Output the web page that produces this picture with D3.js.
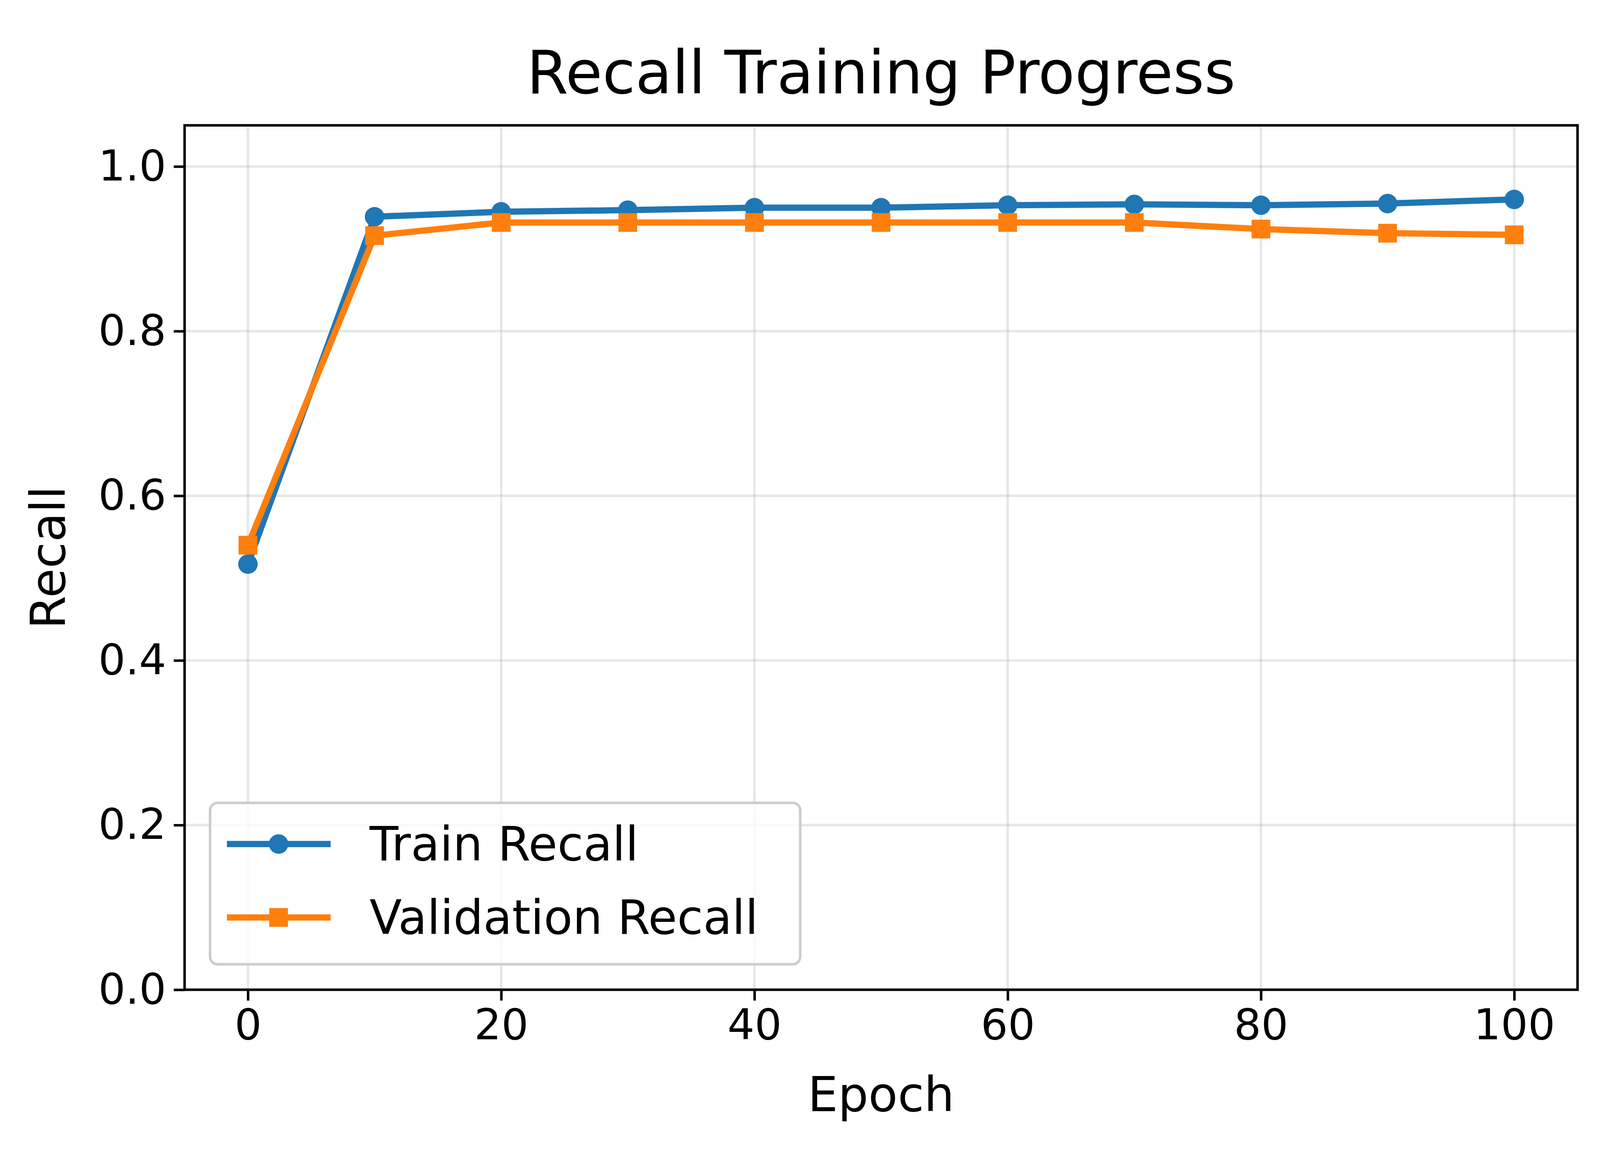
<!DOCTYPE html>
<html>
<head>
<meta charset="utf-8">
<script src="https://cdn.jsdelivr.net/npm/d3@7"></script>
<style>
  html, body { margin: 0; padding: 0; background: white; overflow: hidden; }
  svg { display: block; }
  text { font-family: "DejaVu Sans", sans-serif; }
</style>
</head>
<body>
<script>
// Data
const epochs = [0, 10, 20, 30, 40, 50, 60, 70, 80, 90, 100];
const trainRecall = [0.517, 0.939, 0.945, 0.947, 0.950, 0.950, 0.953, 0.954, 0.953, 0.955, 0.960];
const valRecall = [0.540, 0.916, 0.932, 0.932, 0.932, 0.932, 0.932, 0.932, 0.924, 0.919, 0.917];
const xTicks = [0, 20, 40, 60, 80, 100];
const yTicks = [0.0, 0.2, 0.4, 0.6, 0.8, 1.0];

const width = 4273, height = 2992;
const margin = { top: 270, right: 60, bottom: 414, left: 493 };
const plotW = width - margin.left - margin.right;
const plotH = height - margin.top - margin.bottom;

const svg = d3.select('body').append('svg')
    .attr('width', '100vw')
    .attr('height', '100vh')
    .attr('viewBox', `0 0 ${width} ${height}`)
    .attr('preserveAspectRatio', 'xMidYMid meet');

const g = svg.append('g')
    .attr('transform', `translate(${margin.left}, ${margin.top})`);

const x = d3.scaleLinear().domain([-5, 105]).range([0, plotW]);
const y = d3.scaleLinear().domain([0, 1.05]).range([plotH, 0]);

// grid
g.append('g').selectAll('line')
    .data(xTicks).join('line')
    .attr('x1', d => x(d)).attr('x2', d => x(d))
    .attr('y1', 0).attr('y2', plotH)
    .attr('stroke', '#b0b0b0').attr('stroke-opacity', 0.3).attr('stroke-width', 6.7);
g.append('g').selectAll('line')
    .data(yTicks).join('line')
    .attr('x1', 0).attr('x2', plotW)
    .attr('y1', d => y(d)).attr('y2', d => y(d))
    .attr('stroke', '#b0b0b0').attr('stroke-opacity', 0.3).attr('stroke-width', 6.7);

// axes
const xAxis = d3.axisBottom(x).tickValues(xTicks).tickSize(29).tickPadding(22).tickFormat(d3.format('d'));
const yAxis = d3.axisLeft(y).tickValues(yTicks).tickSize(29).tickPadding(20).tickFormat(d3.format('.1f'));
g.append('g').attr('transform', `translate(0, ${plotH})`).call(xAxis)
    .call(a => a.select('.domain').remove())
    .call(a => a.selectAll('.tick line').attr('stroke-width', 6.7))
    .call(a => a.selectAll('text').attr('font-size', 114).attr('fill', 'black'));
g.append('g').call(yAxis)
    .call(a => a.select('.domain').remove())
    .call(a => a.selectAll('.tick line').attr('stroke-width', 6.7))
    .call(a => a.selectAll('text').attr('font-size', 114).attr('fill', 'black'));

g.append('rect').attr('width', plotW).attr('height', plotH)
    .attr('fill', 'none').attr('stroke', 'black').attr('stroke-width', 6.7);

// series
const line = d3.line().x((d, i) => x(epochs[i])).y(d => y(d));
const blue = '#1f77b4', orange = '#ff7f0e';

g.append('path').datum(trainRecall).attr('d', line)
    .attr('fill', 'none').attr('stroke', blue).attr('stroke-width', 16.7);
g.append('g').selectAll('circle').data(trainRecall).join('circle')
    .attr('cx', (d, i) => x(epochs[i])).attr('cy', d => y(d))
    .attr('r', 26).attr('fill', blue);

g.append('path').datum(valRecall).attr('d', line)
    .attr('fill', 'none').attr('stroke', orange).attr('stroke-width', 16.7);
g.append('g').selectAll('rect').data(valRecall).join('rect')
    .attr('x', (d, i) => x(epochs[i]) - 25).attr('y', d => y(d) - 25)
    .attr('width', 50).attr('height', 50).attr('fill', orange);

// title and labels
svg.append('text').attr('x', margin.left + plotW / 2).attr('y', 185)
    .attr('text-anchor', 'middle').attr('font-size', 160).text('Recall Training Progress');
svg.append('text').attr('x', margin.left + plotW / 2).attr('y', 2902)
    .attr('text-anchor', 'middle').attr('font-size', 128).text('Epoch');
svg.append('text').attr('transform', `translate(173, ${margin.top + plotH / 2}) rotate(-90)`)
    .attr('text-anchor', 'middle').attr('font-size', 128).text('Recall');

// legend
const lg = g.append('g').attr('transform', `translate(${561 - margin.left}, ${2079 - margin.top})`);
lg.append('rect').attr('width', 1576).attr('height', 431).attr('rx', 20)
    .attr('fill', 'white').attr('fill-opacity', 0.8)
    .attr('stroke', '#cccccc').attr('stroke-width', 6.7);
const items = [
    { label: 'Train Recall', color: blue, marker: 'circle' },
    { label: 'Validation Recall', color: orange, marker: 'square' }
];
items.forEach((it, i) => {
    const cy = 110 + i * 196;
    lg.append('line').attr('x1', 45).attr('x2', 322).attr('y1', cy).attr('y2', cy)
        .attr('stroke', it.color).attr('stroke-width', 16.7);
    if (it.marker === 'circle') {
        lg.append('circle').attr('cx', 183).attr('cy', cy).attr('r', 26).attr('fill', it.color);
    } else {
        lg.append('rect').attr('x', 158).attr('y', cy - 25).attr('width', 50).attr('height', 50).attr('fill', it.color);
    }
    lg.append('text').attr('x', 426).attr('y', cy + 44).attr('font-size', 126).text(it.label);
});
</script>
</body>
</html>
